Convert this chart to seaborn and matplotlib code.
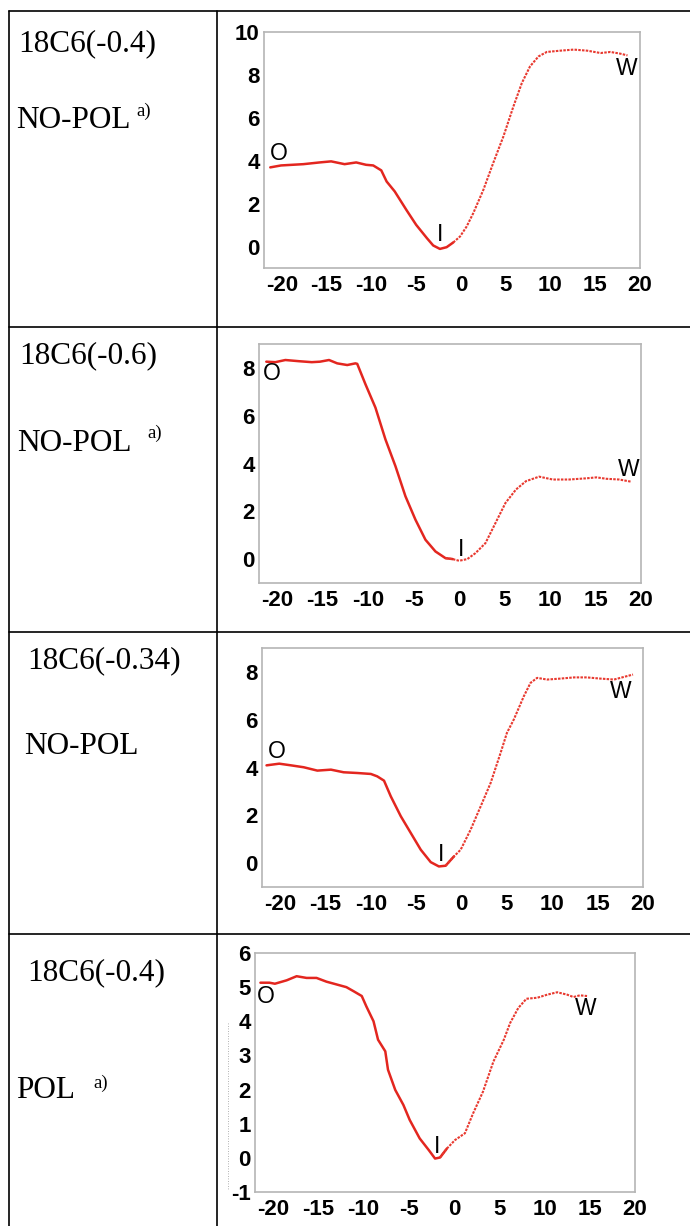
import matplotlib
matplotlib.use("Agg")
import matplotlib.pyplot as plt
from matplotlib.lines import Line2D
import seaborn as sns
import pandas as pd

# --- data (reaction coordinate vs free energy) ---
x_a = [-21.3, -20.1, -17.6, -15.8, -14.5, -13.0, -11.7, -10.6, -9.8, -8.9, -8.3, -7.4, -6.1, -5.0,
       -3.8, -3.1, -2.35, -1.6, -0.86, -0.1, 0.63, 1.38, 2.5, 3.6, 4.74, 5.86, 6.8, 7.72, 8.66,
       9.59, 11.1, 12.6, 14.1, 15.6, 16.7, 17.8, 18.6]
y_a = [3.69, 3.78, 3.84, 3.92, 3.97, 3.84, 3.92, 3.81, 3.78, 3.55, 3.03, 2.57, 1.71, 1.01,
       0.39, 0.05, -0.11, -0.03, 0.19, 0.47, 0.93, 1.56, 2.64, 3.89, 5.13, 6.53, 7.62, 8.40, 8.86,
       9.07, 9.13, 9.18, 9.13, 9.02, 9.07, 8.99, 8.91]

x_b = [-21.2, -20.2, -19.1, -17.6, -16.2, -15.3, -14.3, -13.4, -12.3, -11.4, -11.2, -10.3, -9.2,
       -8.1, -7.0, -5.9, -4.8, -3.7, -2.6, -1.5, -0.7, 0.0, 0.9, 1.8, 2.9, 4.0, 5.1, 6.25, 7.35,
       8.8, 10.3, 12.1, 14.0, 15.1, 16.2, 17.6, 18.9]
y_b = [8.26, 8.24, 8.33, 8.28, 8.24, 8.26, 8.33, 8.19, 8.12, 8.19, 8.17, 7.32, 6.34,
       5.01, 3.89, 2.63, 1.65, 0.81, 0.32, 0.04, 0.0, -0.07, 0.0, 0.25, 0.67, 1.51, 2.35, 2.91, 3.26,
       3.45, 3.33, 3.33, 3.38, 3.42, 3.36, 3.33, 3.24]

x_c = [-21.5, -20.1, -18.8, -17.4, -15.9, -14.4, -13.0, -11.5, -10.0, -9.3, -8.55, -7.8, -6.7,
       -5.6, -4.5, -3.4, -2.5, -1.76, -0.84, -0.1, 1.0, 2.1, 3.2, 4.3, 5.0, 5.76, 6.86, 7.6, 8.33,
       9.43, 10.9, 12.4, 13.8, 15.3, 16.8, 17.9, 18.9]
y_c = [4.09, 4.16, 4.09, 4.01, 3.87, 3.91, 3.80, 3.77, 3.73, 3.63, 3.45, 2.79, 1.96,
       1.26, 0.56, 0.04, -0.14, -0.11, 0.28, 0.56, 1.40, 2.37, 3.35, 4.61, 5.45, 6.01, 6.98, 7.54, 7.75,
       7.68, 7.72, 7.77, 7.77, 7.72, 7.68, 7.79, 7.89]

x_d = [-21.4, -20.4, -19.8, -18.5, -17.4, -16.3, -15.2, -14.1, -13.0, -11.9, -11.1, -10.2, -9.7,
       -8.9, -8.4, -7.6, -7.3, -6.5, -5.6, -4.9, -3.8, -2.8, -2.1, -1.55, -0.8, 0.1, 1.2, 2.1, 3.2,
       4.35, 5.5, 6.2, 7.1, 8.0, 9.2, 10.3, 11.4, 12.5, 13.2, 13.9, 14.7]
y_d = [5.13, 5.13, 5.10, 5.20, 5.32, 5.27, 5.27, 5.16, 5.08, 5.00, 4.88, 4.74, 4.44,
       4.00, 3.46, 3.12, 2.58, 1.99, 1.55, 1.11, 0.57, 0.23, -0.02, 0.01, 0.27, 0.52, 0.72, 1.30, 1.94,
       2.82, 3.46, 3.95, 4.39, 4.66, 4.69, 4.78, 4.85, 4.78, 4.71, 4.76, 4.74]

row_title = ["18C6(-0.4)", "18C6(-0.6)", "18C6(-0.34)", "18C6(-0.4)"]
row_kind = ["NO-POL", "NO-POL", "NO-POL", "POL"]
row_note = ["a)", "a)", "", "a)"]

point_names = ["O", "I", "W"]
xticks = [-20, -15, -10, -5, 0, 5, 10, 15, 20]

sns.set_style("white")
plt.rcParams["axes.unicode_minus"] = False

W, H = 690, 1226
fig = plt.figure(figsize=(W / 100, H / 100), dpi=100)


def px_axes(left, right, top, bottom):
    return fig.add_axes([left / W, 1 - bottom / H, (right - left) / W, (bottom - top) / H])


panels = [
    dict(x=x_a, y=y_a, box=(264, 640, 32, 268), ylim=(-1, 10), yticks=[0, 2, 4, 6, 8, 10],
         split=-1.0, labels=[(-20.4, 4.35), (-2.35, 0.55), (18.5, 8.3)]),
    dict(x=x_b, y=y_b, box=(259, 641, 344, 583), ylim=(-1, 9), yticks=[0, 2, 4, 6, 8],
         split=-1.2, labels=[(-20.6, 7.75), (0.2, 0.42), (18.7, 3.75)]),
    dict(x=x_c, y=y_c, box=(262, 643, 648, 887), ylim=(-1, 9), yticks=[0, 2, 4, 6, 8],
         split=-1.5, labels=[(-20.4, 4.68), (-2.3, 0.35), (17.5, 7.2)]),
    dict(x=x_d, y=y_d, box=(255, 635, 953, 1192), ylim=(-1, 6), yticks=[-1, 0, 1, 2, 3, 4, 5, 6],
         split=-1.5, labels=[(-20.8, 4.72), (-1.9, 0.34), (14.6, 4.36)]),
]

for p in panels:
    ax = px_axes(*p["box"])
    df = pd.DataFrame({"x": p["x"], "y": p["y"]})
    left_part = df[df["x"] <= p["split"] + 0.7]
    right_part = df[df["x"] >= p["split"] - 0.3]
    sns.lineplot(data=left_part, x="x", y="y", ax=ax, color="#e3261f", linewidth=1.8)
    sns.lineplot(data=right_part, x="x", y="y", ax=ax, color="#e8392f", linewidth=1.5,
                 linestyle=(0, (1.2, 0.6)))
    for name, (lx, ly) in zip(point_names, p["labels"]):
        ax.text(lx, ly, name, ha="center", va="center", fontsize=16.5,
                family="Liberation Sans", color="black")
    ax.set_xlim(-22, 20)
    ax.set_ylim(*p["ylim"])
    ax.set_xticks(xticks)
    ax.set_yticks(p["yticks"])
    ax.set_xlabel("")
    ax.set_ylabel("")
    for s in ax.spines.values():
        s.set_color("#b5b5b5")
        s.set_linewidth(1.2)
    ax.tick_params(axis="both", direction="in", length=4, width=1, color="#b5b5b5",
                   labelsize=16, labelcolor="black")
    ax.tick_params(axis="x", pad=5)
    ax.tick_params(axis="y", pad=3)
    for lab in ax.get_xticklabels() + ax.get_yticklabels():
        lab.set_fontweight("bold")
        lab.set_family("Liberation Sans")

# table grid
def hline(y, x0=9, x1=690):
    fig.add_artist(Line2D([x0 / W, x1 / W], [1 - y / H, 1 - y / H], color="black", linewidth=1.2))


def vline(x, y0=11, y1=1226):
    fig.add_artist(Line2D([x / W, x / W], [1 - y0 / H, 1 - y1 / H], color="black", linewidth=1.2))


for yy in [11, 327, 632, 934]:
    hline(yy)
vline(9)
vline(217)

# faint leftover of a cropped axis label in the last panel
fig.add_artist(Line2D([228 / W, 228 / W], [1 - 1023 / H, 1 - 1190 / H], color="#999999",
                      linewidth=0.6, linestyle=(0, (1, 2))))

# left column text
title_pos = [(18, 51), (19, 363), (27, 668), (27, 980)]
kind_pos = [(16, 128), (17, 451), (24, 754), (16, 1098)]
note_pos = [(136, 116), (147, 438), (0, 0), (93, 1088)]
for i in range(4):
    tx, ty = title_pos[i]
    fig.text(tx / W, 1 - ty / H, row_title[i], family="Liberation Serif", fontsize=22.5,
             va="baseline", ha="left", color="black")
    kx, ky = kind_pos[i]
    fig.text(kx / W, 1 - ky / H, row_kind[i], family="Liberation Serif", fontsize=22.5,
             va="baseline", ha="left", color="black")
    if row_note[i]:
        nx, ny = note_pos[i]
        fig.text(nx / W, 1 - ny / H, row_note[i], family="Liberation Serif", fontsize=13.5,
                 va="baseline", ha="left", color="black")

fig.savefig("out.png", dpi=100)
